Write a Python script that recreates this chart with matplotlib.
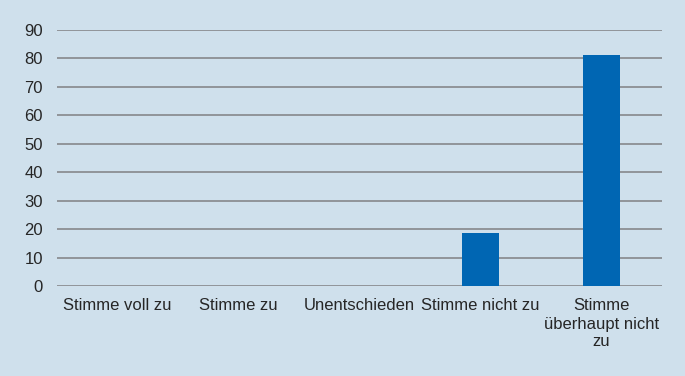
import matplotlib.pyplot as plt

plt.rcParams['font.family'] = ['Liberation Sans', 'DejaVu Sans']

kategorien = ['Stimme voll zu', 'Stimme zu', 'Unentschieden', 'Stimme nicht zu',
              'Stimme\nüberhaupt nicht\nzu']
werte = [0, 0, 0, 18.75, 81.25]
yticks = [0, 10, 20, 30, 40, 50, 60, 70, 80, 90]

bg = '#cfe0ec'
fig = plt.figure(figsize=(6.85, 3.76), dpi=100, facecolor=bg)
ax = fig.add_axes([57 / 685, 1 - 286 / 376, (662 - 57) / 685, 256 / 376])
ax.set_facecolor(bg)

ax.bar(range(len(werte)), werte, width=0.31, color='#0066b3', zorder=3)

ax.set_xlim(-0.5, len(werte) - 0.5)
ax.set_ylim(0, 90)
ax.set_yticks(yticks)
ax.set_xticks(range(len(kategorien)))
ax.set_xticklabels(kategorien, fontsize=12, color='#262626', linespacing=1.25)
ax.tick_params(axis='y', labelsize=12, labelcolor='#262626', length=0, pad=10)
ax.tick_params(axis='x', length=0, pad=9)
ax.grid(axis='y', color='#8c8f93', linewidth=1.3, zorder=0)
ax.set_axisbelow(True)
for s in ax.spines.values():
    s.set_visible(False)

fig.savefig('out.png', dpi=100, facecolor=bg)
